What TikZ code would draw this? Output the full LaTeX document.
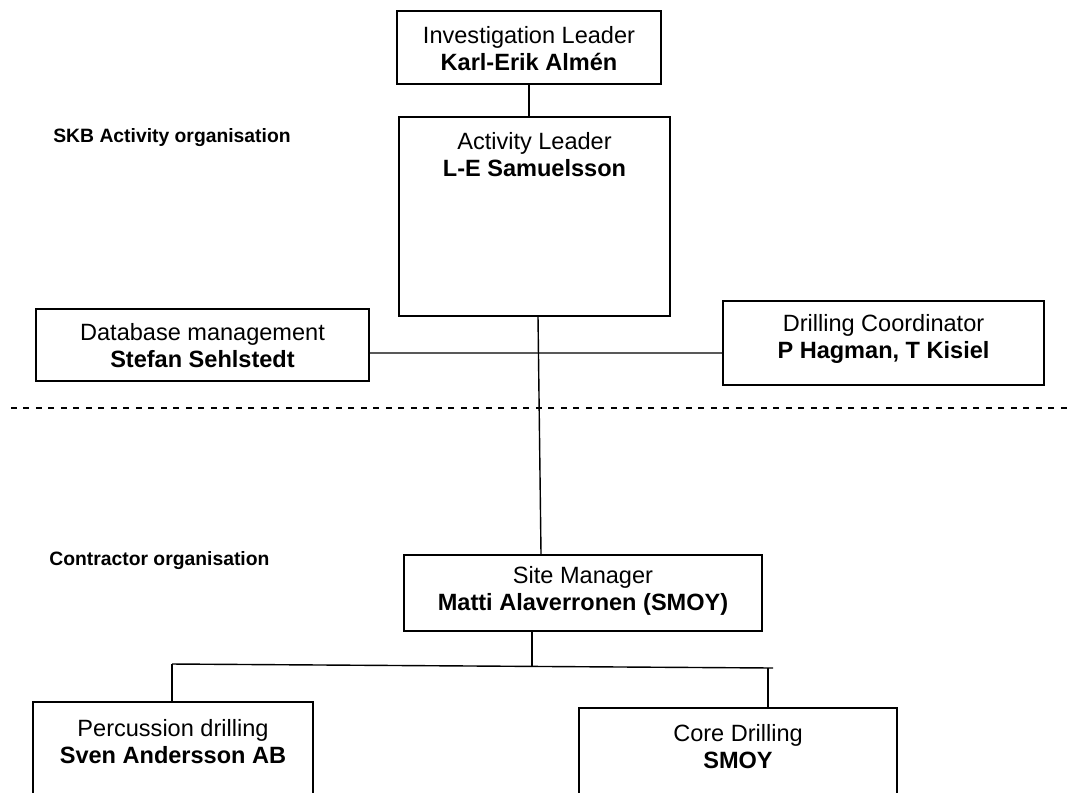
\documentclass[tikz,border=0pt]{standalone}
\usepackage{fontspec}
\setmainfont{Liberation Sans}
\tikzset{
  font={\fontsize{13.4pt}{15.3pt}\selectfont},
  box/.style={draw, shape=rectangle, thick},
  boxtitle/.style={anchor=north, align=center, inner sep=0pt},
  orglabel/.style={anchor=west, inner sep=0pt, font={\fontsize{11pt}{13pt}\selectfont\bfseries}}
}

\begin{document}
\begin{tikzpicture}[x=0.02cm, y=-0.02cm]
  \useasboundingbox (0,0) rectangle (1067,792);
  \clip (0,0) rectangle (1067,792);
  % SKB side
  \node (inv) [box, minimum width=5.28cm, minimum height=1.46cm,
    label={[boxtitle, yshift=-0.31cm]north:{Investigation Leader\\\textbf{Karl-Erik Almén}}}] at (529,47.5) {};
  \node (act) [box, minimum width=5.42cm, minimum height=3.98cm,
    label={[boxtitle, yshift=-0.32cm]north:{Activity Leader\\\textbf{L-E Samuelsson}}}] at (534.5,216.5) {};
  \node (db) [box, minimum width=6.66cm, minimum height=1.44cm,
    label={[boxtitle, yshift=-0.29cm]north:{Database management\\\textbf{Stefan Sehlstedt}}}] at (202.5,345) {};
  \node (dc) [box, minimum width=6.42cm, minimum height=1.68cm,
    label={[boxtitle, yshift=-0.27cm]north:{Drilling Coordinator\\\textbf{P Hagman, T Kisiel}}}] at (883.5,343) {};
  \node (skb) [orglabel] at (53,138) {SKB Activity organisation};
  % contractor side
  \node (con) [orglabel] at (49,561) {Contractor organisation};
  \node (site) [box, minimum width=7.16cm, minimum height=1.52cm,
    label={[boxtitle, yshift=-0.23cm]north:{Site Manager\\\textbf{Matti Alaverronen (SMOY)}}}] at (583,593) {};
  \node (perc) [box, minimum width=5.6cm, minimum height=3cm,
    label={[boxtitle, yshift=-0.35cm]north:{Percussion drilling\\\textbf{Sven Andersson AB}}}] at (173,777) {};
  \node (core) [box, minimum width=6.36cm, minimum height=3cm,
    label={[boxtitle, yshift=-0.33cm]north:{Core Drilling\\\textbf{SMOY}}}] at (738,783) {};
  \coordinate (dashL) at (11,408);
  \coordinate (dashR) at (1067,408);
  \coordinate (busL) at (172,664);
  \coordinate (busM) at (532,666);
  \coordinate (busD) at (768,668);
  \coordinate (busR) at (773,668);
  \draw[thick] (inv.south) -- (inv.south |- act.north);
  \draw[thick] ([xshift=0.07cm]act.south) -- ([xshift=-0.84cm]site.north);
  \draw[thick] ([yshift=-0.16cm]db.east) -- ([yshift=-0.2cm]dc.west);
  \draw[thick, dash pattern=on 0.12cm off 0.13cm] (dashL) -- (dashR);
  \draw[thick] (site.south -| busM) -- (busM);
  \draw[thick] (busL) -- (busR);
  \draw[thick] (busL) -- (busL |- perc.north);
  \draw[thick] (busD) -- (busD |- core.north);
\end{tikzpicture}
\end{document}
